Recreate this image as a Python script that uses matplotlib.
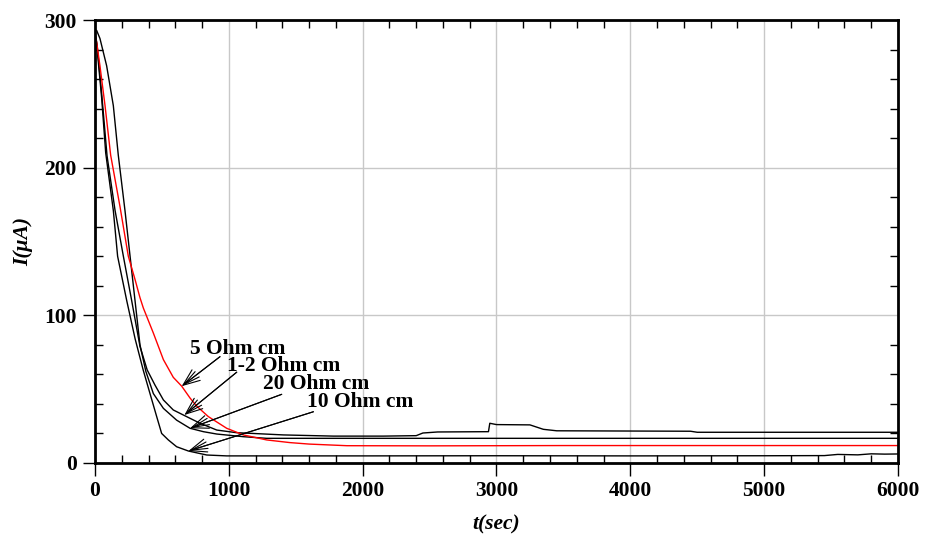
import matplotlib
matplotlib.use("Agg")
import matplotlib.pyplot as plt
from matplotlib.ticker import MultipleLocator

plt.rcParams['font.family'] = ['Liberation Serif', 'DejaVu Serif']

# 10 Ohm cm - drops fastest, ends lowest
t_10 = [0, 15, 50, 80, 137, 169, 237, 300, 360, 411, 461, 498, 548, 610, 698, 835, 984,
        2000, 3000, 4000, 5000, 5450, 5550, 5700, 5800, 5900, 6000]
i_10 = [290, 281, 247, 210, 171, 140, 110, 84, 63, 47, 31.4, 20, 15.6, 11, 8.1, 5.4, 4.8,
        4.8, 4.9, 4.8, 4.9, 5.0, 5.8, 5.5, 6.2, 6.0, 6.1]

# 1-2 Ohm cm - ends highest, with the step near 2950 s
t_12 = [0, 15, 50, 90, 150, 212, 274, 336, 390, 448, 511, 585, 660, 785, 910, 1059, 1158,
        1408, 1781, 2155, 2400, 2450, 2560, 2940, 2950, 3000, 3250, 3350, 3450, 4450, 4500, 6000]
i_12 = [291, 284, 250, 208, 171, 140, 110, 79, 63, 52.8, 42.7, 35.9, 32.5, 26.9, 22.3, 20.5, 20.1,
        19.0, 18.2, 18.2, 18.5, 20.3, 21.0, 21.2, 26.9, 26.0, 25.8, 22.8, 21.8, 21.5, 20.8, 20.8]

# 20 Ohm cm - starts highest, delayed drop
t_20 = [0, 12, 37, 87, 137, 174, 224, 299, 336, 380, 436, 511, 610, 710, 810, 910, 1109, 1283,
        6000]
i_20 = [293, 293, 287.5, 269, 242, 208.5, 171, 110, 80, 62, 47, 37, 29, 23.5, 21.2, 19.6, 17.8, 16.7,
        16.7]

# 5 Ohm cm - red curve
t_5 = [0, 12, 37, 75, 117, 187, 249, 300, 336, 361, 436, 511, 585, 648, 710, 760, 847, 984,
       1109, 1283, 1457, 1600, 1883, 2500, 3500, 6000]
i_5 = [290, 285, 269, 242, 208.5, 173.5, 140, 124, 112, 105, 88, 70, 58, 52, 44, 38.5, 31.4, 23.5,
       19, 15.6, 13.8, 12.8, 11.7, 11.6, 11.8, 11.8]

labels = ['5 Ohm cm', '1-2 Ohm cm', '20 Ohm cm', '10 Ohm cm']
label_xy = [(710, 73.8), (984, 62.3), (1253, 49.8), (1582, 37.6)]
arrow_from = [(934, 72), (1059, 61.5), (1395, 46.5), (1632, 34.7)]
arrow_to = [(648, 52), (668, 32.5), (710, 23.5), (698, 8.1)]

fig = plt.figure(figsize=(9.25, 5.47), dpi=100)
ax = fig.add_axes([0.1027, 0.1536, 0.8681, 0.8098])

ax.plot(t_12, i_12, color='black', lw=1.0)
ax.plot(t_20, i_20, color='black', lw=1.0)
ax.plot(t_10, i_10, color='black', lw=1.0)
ax.plot(t_5, i_5, color='red', lw=1.0)

for lab, (tx, ty), (fx, fy), (hx, hy) in zip(labels, label_xy, arrow_from, arrow_to):
    ax.text(tx, ty, lab, fontsize=15.5, fontweight='bold', ha='left', va='baseline')
    # open arrow head drawn as a small fan of lines
    for hw in (0.2, 0.4):
        ax.annotate('', xy=(hx, hy), xytext=(fx, fy),
                    arrowprops=dict(arrowstyle=f'->,head_length=1.0,head_width={hw}',
                                    mutation_scale=12, color='black', lw=0.8,
                                    shrinkA=0, shrinkB=0))

ax.set_xlim(0, 6000)
ax.set_ylim(0, 300)
ax.xaxis.set_major_locator(MultipleLocator(1000))
ax.xaxis.set_minor_locator(MultipleLocator(200))
ax.yaxis.set_major_locator(MultipleLocator(100))
ax.yaxis.set_minor_locator(MultipleLocator(20))

ax.grid(True, which='major', color='#c8c8c8', lw=1.0)
ax.set_axisbelow(True)

for s in ax.spines.values():
    s.set_linewidth(2.0)

ax.tick_params(which='major', direction='out', length=9, width=1.0,
               labelsize=15.5, top=False, right=False, pad=4)
ax.tick_params(which='minor', direction='in', length=6, width=1.0,
               top=True, right=True)
for lbl in ax.get_xticklabels() + ax.get_yticklabels():
    lbl.set_fontweight('bold')

ax.set_xlabel('t(sec)', fontsize=15.5, fontweight='bold', style='italic', labelpad=10)
ax.set_ylabel('I(μA)', fontsize=15.5, fontweight='bold', style='italic', labelpad=8)

fig.savefig('out.png', dpi=100)
